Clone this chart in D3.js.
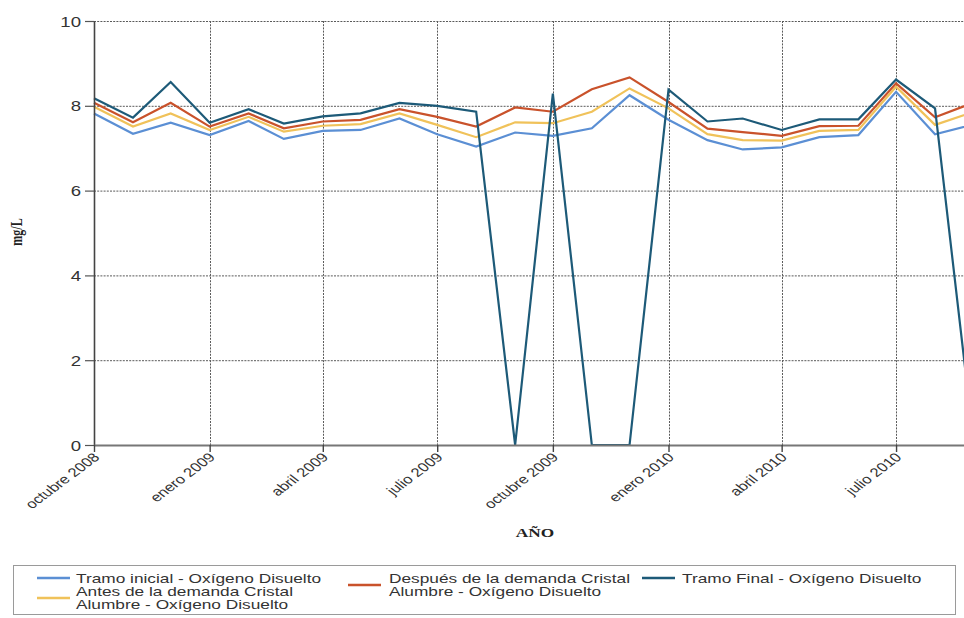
<!DOCTYPE html>
<html>
<head>
<meta charset="utf-8">
<script src="https://cdn.jsdelivr.net/npm/d3@7"></script>
<style>
  body { margin: 0; background: #fff; }
  svg { display: block; }
</style>
</head>
<body>
<svg id="chart" width="964" height="618"></svg>
<script>
// Monthly sampling dates (year-month)
const months = [
  "2008-10", "2008-11", "2008-12",
  "2009-01", "2009-02", "2009-03", "2009-04", "2009-05", "2009-06",
  "2009-07", "2009-08", "2009-09", "2009-10", "2009-11", "2009-12",
  "2010-01", "2010-02", "2010-03", "2010-04", "2010-05", "2010-06",
  "2010-07", "2010-08", "2010-09"
];

// Dissolved oxygen (mg/L) per monitoring point
const tramoInicial = [7.82, 7.34, 7.60, 7.31, 7.64, 7.22, 7.41, 7.43, 7.70, 7.33, 7.04, 7.37,
                      7.29, 7.47, 8.25, 7.67, 7.19, 6.97, 7.02, 7.26, 7.31, 8.33, 7.33, 7.56];
const antesDemanda = [7.98, 7.51, 7.82, 7.43, 7.74, 7.39, 7.53, 7.57, 7.82, 7.55, 7.26, 7.61,
                      7.59, 7.86, 8.41, 7.94, 7.33, 7.19, 7.18, 7.41, 7.43, 8.45, 7.55, 7.86];
const despuesDemanda = [8.07, 7.61, 8.07, 7.51, 7.82, 7.47, 7.63, 7.67, 7.92, 7.74, 7.51, 7.96,
                        7.86, 8.39, 8.67, 8.09, 7.46, 7.38, 7.29, 7.52, 7.53, 8.53, 7.73, 8.08];
const tramoFinal = [8.18, 7.72, 8.56, 7.60, 7.92, 7.58, 7.75, 7.82, 8.07, 8.00, 7.86, 0.00,
                    8.29, 0.00, 0.00, 8.38, 7.63, 7.70, 7.43, 7.68, 7.68, 8.62, 7.94, 0.00];

// Axis ticks
const yTicks = [0, 2, 4, 6, 8, 10];
const xTickMonths = ["2008-10", "2009-01", "2009-04", "2009-07", "2009-10", "2010-01", "2010-04", "2010-07"];
const xTickLabels = ["octubre 2008", "enero 2009", "abril 2009", "julio 2009",
                     "octubre 2009", "enero 2010", "abril 2010", "julio 2010"];

// Legend entries (label lines) and colours
const seriesLabels = [
  ["Tramo inicial - Oxígeno Disuelto"],
  ["Antes de la demanda Cristal", "Alumbre - Oxígeno Disuelto"],
  ["Después de la demanda Cristal", "Alumbre - Oxígeno Disuelto"],
  ["Tramo Final - Oxígeno Disuelto"]
];
const seriesColors = ["#5b8fd4", "#f0c25a", "#c9522b", "#1d5a78"];
const seriesValues = [tramoInicial, antesDemanda, despuesDemanda, tramoFinal];

// ---- drawing ----
const svg = d3.select("#chart");
const parseMonth = d3.timeParse("%Y-%m");
const dates = months.map(parseMonth);

const plot = { left: 94, top: 21, bottom: 445, right: 974 };
const S = 1.33; // horizontal stretch applied to text

const x = d3.scaleTime()
  .domain([parseMonth("2008-10"), parseMonth("2010-09")])
  .range([plot.left, plot.right]);
const y = d3.scaleLinear().domain([0, 10]).range([plot.bottom, plot.top]);

// grid
const grid = svg.append("g").attr("stroke", "#5a5a5a").attr("stroke-width", 1)
  .attr("stroke-dasharray", "2 1.2");
grid.selectAll("line.h").data(yTicks.filter(d => d > 0)).join("line")
  .attr("x1", plot.left).attr("x2", plot.right)
  .attr("y1", d => y(d) + 0.5).attr("y2", d => y(d) + 0.5);
grid.selectAll("line.v").data(xTickMonths.slice(1).map(parseMonth)).join("line")
  .attr("x1", d => Math.round(x(d)) + 0.5).attr("x2", d => Math.round(x(d)) + 0.5)
  .attr("y1", plot.top).attr("y2", plot.bottom);

// series lines
const line = d3.line()
  .x((d, i) => x(dates[i]))
  .y(d => y(d));
svg.append("g").selectAll("path").data(seriesValues).join("path")
  .attr("fill", "none")
  .attr("stroke", (d, i) => seriesColors[i])
  .attr("stroke-width", 2.2)
  .attr("stroke-linejoin", "miter")
  .attr("d", line);

// y axis
const yAxis = svg.append("g").attr("transform", `translate(${plot.left},0)`)
  .call(d3.axisLeft(y).tickValues(yTicks).tickSize(9).tickSizeOuter(0));
yAxis.select(".domain").attr("stroke", "#444").attr("stroke-width", 1.6);
yAxis.selectAll(".tick line").attr("stroke", "#555").attr("stroke-width", 1.2);
yAxis.selectAll(".tick text")
  .attr("x", null).attr("dy", null)
  .attr("transform", `translate(-13,5) scale(${S},1)`)
  .attr("font-family", "Liberation Sans, Arial, sans-serif")
  .attr("font-size", 14)
  .attr("fill", "#333");

// x axis
const xAxis = svg.append("g").attr("transform", `translate(0,${plot.bottom})`)
  .call(d3.axisBottom(x)
    .tickValues(xTickMonths.map(parseMonth))
    .tickFormat((d, i) => xTickLabels[i])
    .tickSize(7).tickSizeOuter(0));
xAxis.select(".domain").attr("stroke", "#777").attr("stroke-width", 2);
xAxis.selectAll(".tick line").attr("stroke", "#444").attr("stroke-width", 1.4);
xAxis.selectAll(".tick text")
  .attr("y", null).attr("dy", null)
  .attr("text-anchor", "end")
  .attr("transform", `translate(6,13) scale(${S},1) rotate(-45)`)
  .attr("font-family", "Liberation Sans, Arial, sans-serif")
  .attr("font-size", 12.5)
  .attr("fill", "#333");

// axis titles
svg.append("text")
  .attr("transform", `translate(22,232) scale(${S},1) rotate(-90)`)
  .attr("text-anchor", "middle")
  .attr("font-family", "Liberation Serif, Times New Roman, serif")
  .attr("font-weight", "bold").attr("font-size", 12).attr("fill", "#222")
  .text("mg/L");
svg.append("text")
  .attr("transform", `translate(535,537) scale(${S},1)`)
  .attr("text-anchor", "middle")
  .attr("font-family", "Liberation Serif, Times New Roman, serif")
  .attr("font-weight", "bold").attr("font-size", 13).attr("fill", "#222")
  .text("AÑO");

// legend
const legend = svg.append("g");
legend.append("rect")
  .attr("x", 13.5).attr("y", 565.5).attr("width", 942).attr("height", 49)
  .attr("fill", "none").attr("stroke", "#9a9a9a").attr("stroke-width", 1);

const legendPos = [
  { sx: 37, sy: 578, tx: 76, ty: 578 },
  { sx: 37, sy: 598, tx: 76, ty: 591 },
  { sx: 348, sy: 585, tx: 389, ty: 578 },
  { sx: 642, sy: 578, tx: 682, ty: 578 }
];
const lineGap = 13.5;
seriesLabels.forEach((lines, i) => {
  const p = legendPos[i];
  legend.append("line")
    .attr("x1", p.sx).attr("x2", p.sx + 33)
    .attr("y1", p.sy).attr("y2", p.sy)
    .attr("stroke", seriesColors[i]).attr("stroke-width", 2.4);
  lines.forEach((t, k) => {
    legend.append("text")
      .attr("transform", `translate(${p.tx},${p.ty + k * lineGap + 4.5}) scale(${S},1)`)
      .attr("font-family", "Liberation Sans, Arial, sans-serif")
      .attr("font-size", 13)
      .attr("fill", "#333")
      .text(t);
  });
});
</script>
</body>
</html>
